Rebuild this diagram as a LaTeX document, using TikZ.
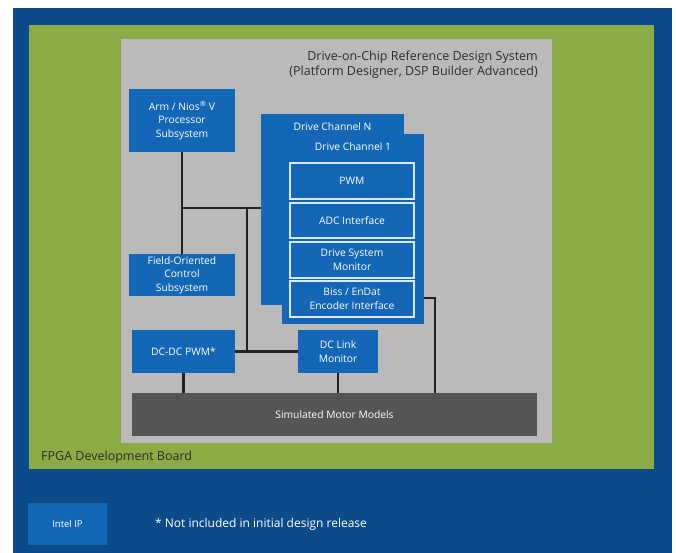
\documentclass[tikz,border=0pt]{standalone}
\usepackage{fontspec}
\setmainfont{Open Sans}
\usetikzlibrary{positioning}
\definecolor{boardblue}{RGB}{11,75,138}
\definecolor{fpgagreen}{RGB}{139,172,69}
\definecolor{sysgray}{RGB}{186,186,186}
\definecolor{ipblue}{RGB}{20,103,182}
\definecolor{motorgray}{RGB}{85,85,85}
\definecolor{wiregray}{RGB}{34,34,34}
\definecolor{labelgray}{RGB}{45,45,45}
\tikzset{
  ipbox/.style={fill=ipblue, text=white, align=center, inner sep=0pt, font=\fontsize{10.3}{13.5}\selectfont},
  subbox/.style={ipbox, draw=white!85!ipblue, line width=1.2pt},
  chantext/.style={text=white, inner sep=0pt, anchor=north, font=\fontsize{10.3}{13.5}\selectfont},
  wire/.style={draw=wiregray, line width=2.9pt},
}
\begin{document}
\begin{tikzpicture}[x=1pt, y=-1pt]
\useasboundingbox (0,0) rectangle (676,553);
\fill[boardblue] (13,8) rectangle (672,553);
\fill[fpgagreen] (28.7,25) rectangle (654,469);
\fill[sysgray] (120.7,38.7) rectangle (551.7,442.7);

\node[anchor=north east, align=right, inner sep=0pt, text=labelgray, font=\fontsize{12.5}{15}\selectfont] (systitle) at (538,50.5) {Drive-on-Chip Reference Design System\\(Platform Designer, DSP Builder Advanced)};
\node[anchor=west, inner sep=0pt, text=labelgray, font=\fontsize{12.5}{15}\selectfont] (boardlabel) at (41,457) {FPGA Development Board};

% processor side
\node[ipbox, minimum width=106pt, minimum height=63pt] (arm) at (182,120.5) {Arm / Nios\textsuperscript{®} V\\Processor\\Subsystem};
\node[ipbox, minimum width=106pt, minimum height=42pt] (foc) at (182,275) {Field-Oriented\\Control\\Subsystem};

% drive channels
\node[ipbox, minimum width=143pt, minimum height=191pt] (chN) at (332.5,209.5) {};
\node[chantext] (chNlabel) at ([yshift=-8.5pt]chN.north) {Drive Channel N};
\node[ipbox, minimum width=142pt, minimum height=190pt] (ch1) at (353,229) {};
\node[chantext] (ch1label) at ([yshift=-8.5pt]ch1.north) {Drive Channel 1};
\node[subbox, minimum width=124pt, minimum height=36pt] (pwm) at (352,181) {PWM};
\node[subbox, minimum width=124pt, minimum height=35pt] (adc) at (352,220.5) {ADC Interface};
\node[subbox, minimum width=124pt, minimum height=36pt] (dsm) at (352,260) {Drive System\\Monitor};
\node[subbox, minimum width=124pt, minimum height=36pt] (enc) at (352,299) {Biss / EnDat\\Encoder Interface};

% power side
\node[ipbox, minimum width=103pt, minimum height=43pt] (dcdc) at (183.5,351.5) {DC-DC PWM*};
\node[ipbox, minimum width=80pt, minimum height=43pt] (dclink) at (338,351.5) {DC Link\\Monitor};
\node[ipbox, fill=motorgray, minimum width=405pt, minimum height=43pt] (motor) at (334.5,414.5) {Simulated Motor Models};

% connections
\coordinate (jbus) at (182,208);
\coordinate (jdc) at (247,208);
\coordinate (jenc) at (435,298);
\draw[wire] (arm) -- (foc);
\draw[wire] (jbus) -- (jbus -| chN.west);
\draw[wire] (jdc) -- (jdc |- dcdc.east);
\draw[wire] (dcdc) -- (dclink);
\draw[wire] (dcdc.south) -- (dcdc.south |- motor.north);
\draw[wire] (dclink.south) -- (dclink.south |- motor.north);
\draw[wire] (jenc -| ch1.east) -- (jenc) -- (jenc |- motor.north);

% legend
\node[ipbox, minimum width=79pt, minimum height=42pt, font=\fontsize{9.5}{11}\selectfont] (legendip) at (67.5,524) {Intel IP};
\node[anchor=west, inner sep=0pt, text=white, font=\fontsize{12}{14}\selectfont] (legendnote) at (155,524) {* Not included in initial design release};
\end{tikzpicture}
\end{document}
